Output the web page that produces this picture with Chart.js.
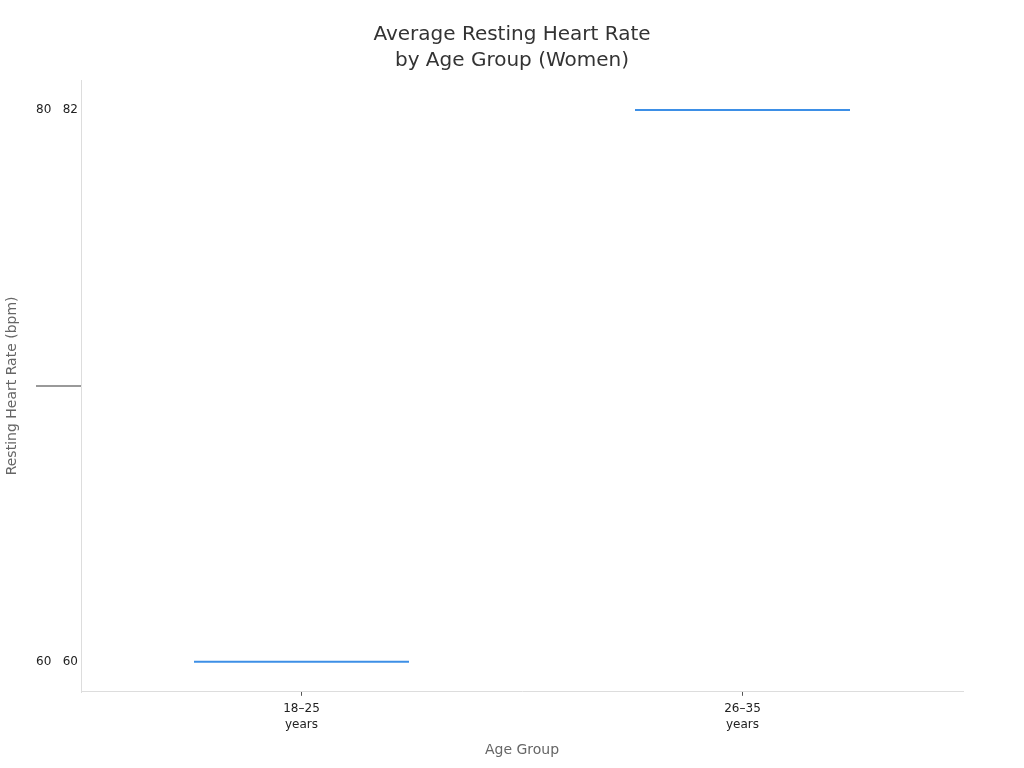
<!DOCTYPE html>
<html>
<head>
<meta charset="utf-8">
<script src="https://cdn.jsdelivr.net/npm/chart.js@4/dist/chart.umd.min.js"></script>
<style>
  html, body { margin: 0; padding: 0; background: #fff; overflow: hidden; }
  #wrap { width: 1024px; height: 768px; }
</style>
</head>
<body>
<div id="wrap"><canvas id="chart"></canvas></div>
<script>
// chart values
var ageGroups = [["18\u201325", "years"], ["26\u201335", "years"]];
var restingRates = [60, 82];
var yTickValues = [60, 71, 82];
var yTickLabels = ["60   60", "", "80   82"];

var font = "'DejaVu Sans', sans-serif";

new Chart(document.getElementById("chart"), {
    type: "line",
    data: {
        labels: ageGroups,
        datasets: [{
            label: "Resting heart rate",
            data: restingRates,
            showLine: false,
            pointStyle: "line",
            pointRadius: 107.5,
            pointHoverRadius: 107.5,
            pointBorderWidth: 2,
            pointHoverBorderWidth: 2,
            pointBorderColor: "#3d8fe6",
            pointBackgroundColor: "#3d8fe6",
            borderColor: "#3d8fe6"
        }]
    },
    options: {
        responsive: true,
        maintainAspectRatio: false,
        animation: false,
        layout: { autoPadding: false, padding: 0 },
        plugins: {
            legend: { display: false },
            tooltip: { enabled: false },
            title: {
                display: true,
                text: ["Average Resting Heart Rate", "by Age Group (Women)"],
                color: "#333",
                font: { family: font, size: 20, weight: "normal", lineHeight: 1.3 },
                padding: { top: 22, bottom: 6 }
            }
        },
        scales: {
            x: {
                offset: true,
                border: { color: "#ddd", width: 1 },
                grid: { drawOnChartArea: false, tickLength: 4, color: "#555" },
                ticks: {
                    color: "#222",
                    padding: 5,
                    font: { family: font, size: 12, lineHeight: 1.35 }
                },
                title: {
                    display: true,
                    text: "Age Group",
                    color: "#666",
                    font: { family: font, size: 14 },
                    padding: { top: 4, bottom: 9 }
                }
            },
            y: {
                min: 58.8,
                max: 83.2,
                border: { color: "#ddd", width: 1 },
                afterBuildTicks: function(scale) {
                    scale.ticks = yTickValues.map(function(v) { return { value: v }; });
                },
                afterFit: function(scale) { scale.width = 81; },
                grid: {
                    drawOnChartArea: false,
                    tickLength: 45,
                    lineWidth: 2,
                    color: function(ctx) {
                        return ctx.tick && ctx.tick.value === 71 ? "#999" : "rgba(0,0,0,0)";
                    }
                },
                ticks: {
                    color: "#222",
                    padding: -42,
                    font: { family: font, size: 12 },
                    callback: function(value, index) { return yTickLabels[index]; }
                },
                title: {
                    display: true,
                    text: "Resting Heart Rate (bpm)",
                    color: "#666",
                    font: { family: font, size: 14 },
                    padding: 4
                }
            },
            // empty right-hand margin so the title stays centred on the page
            yRight: {
                position: "right",
                border: { display: false },
                grid: { display: false },
                ticks: { display: false },
                afterFit: function(scale) { scale.width = 61; }
            }
        }
    }
});
</script>
</body>
</html>
